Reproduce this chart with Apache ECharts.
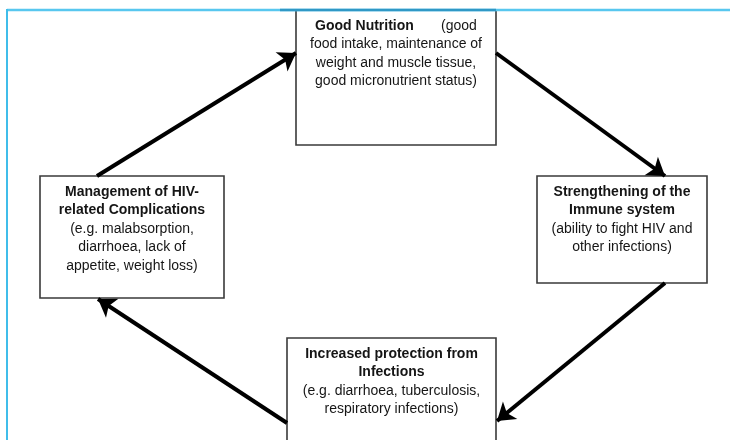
<!DOCTYPE html>
<html>
<head>
<meta charset="utf-8">
<script src="https://cdn.jsdelivr.net/npm/echarts@6/dist/echarts.min.js"></script>
<style>
html,body{margin:0;padding:0;background:#fff;}
#chart{width:730px;height:440px;}
</style>
</head>
<body>
<div id="chart"></div>
<script>
// ---- Diagram content ----
const nodeNames = ["Good Nutrition", "Strengthening of the Immune system", "Increased protection from Infections", "Management of HIV-related Complications"];
const nodeTitleLines = [
  ["Good Nutrition"],
  ["Strengthening of the", "Immune system"],
  ["Increased protection from", "Infections"],
  ["Management of HIV-", "related Complications"]
];
const nodeDescLines = [
  ["(good", "food intake, maintenance of", "weight and muscle tissue,", "good micronutrient status)"],
  ["(ability to fight HIV and", "other infections)"],
  ["(e.g. diarrhoea, tuberculosis,", "respiratory infections)"],
  ["(e.g. malabsorption,", "diarrhoea, lack of", "appetite, weight loss)"]
];
// title and first description line share a line in the first box
const nodeInlineDesc = [true, false, false, false];

// cycle links (from node -> to node)
const linkFrom = [3, 0, 1, 2];
const linkTo   = [0, 1, 2, 3];

// ---- Layout (diagram space, 730 x 440) ----
const boxX0 = [296, 537, 287, 40];
const boxY0 = [10, 176, 338, 176];
const boxX1 = [496, 707, 496, 224];
const boxY1 = [145, 283, 462, 298];
const linkStart = [[97, 176], [496, 53], [665, 283], [287, 423]];
const linkEnd   = [[296, 53], [665, 176], [497, 421], [98, 299]];

const FONT = '"Liberation Sans", Arial, Helvetica, sans-serif';

function buildLabel(i) {
  const t = nodeTitleLines[i].map(s => '{b|' + s + '}');
  const d = nodeDescLines[i].map(s => '{r|' + s + '}');
  if (nodeInlineDesc[i]) {
    const first = t.pop() + '{r|       }' + d.shift();
    return t.concat([first], d).join('\n');
  }
  return t.concat(d).join('\n');
}

const boxData = nodeNames.map((n, i) => ({
  name: n,
  value: [boxX0[i], boxY0[i], boxX1[i], boxY1[i]]
}));

const linkData = linkFrom.map((f, k) => ({
  name: nodeNames[f] + ' > ' + nodeNames[linkTo[k]],
  coords: [linkStart[k], linkEnd[k]]
}));

const chart = echarts.init(document.getElementById('chart'));
chart.setOption({
  animation: false,
  backgroundColor: '#ffffff',
  grid: { left: 0, right: 0, top: 0, bottom: 0 },
  xAxis: { type: 'value', min: 0, max: 730, show: false },
  yAxis: { type: 'value', min: 0, max: 440, inverse: true, show: false },
  graphic: [
    { type: 'line', z: 100, shape: { x1: 7, y1: 10, x2: 730, y2: 10 }, style: { stroke: '#58c7ef', lineWidth: 2.5 } },
    { type: 'line', z: 101, shape: { x1: 280, y1: 10, x2: 496, y2: 10 }, style: { stroke: '#2f98c6', lineWidth: 2.5 } },
    { type: 'line', z: 100, shape: { x1: 7, y1: 9, x2: 7, y2: 440 }, style: { stroke: '#40bdea', lineWidth: 2 } }
  ],
  series: [
    {
      type: 'custom',
      coordinateSystem: 'cartesian2d',
      clip: false,
      silent: true,
      encode: { x: [0, 2], y: [1, 3] },
      data: boxData,
      z: 2,
      renderItem: function (params, api) {
        const i = params.dataIndex;
        const p0 = api.coord([api.value(0), api.value(1)]);
        const p1 = api.coord([api.value(2), api.value(3)]);
        const x = Math.min(p0[0], p1[0]);
        const y = Math.min(p0[1], p1[1]);
        const w = Math.abs(p1[0] - p0[0]);
        const h = Math.abs(p1[1] - p0[1]);
        return {
          type: 'group',
          children: [
            { type: 'rect', shape: { x: x, y: y, width: w, height: h },
              style: { fill: '#ffffff', stroke: '#3a3a3a', lineWidth: 1.6 } },
            { type: 'text', x: x + w / 2, y: y + 6.5,
              style: {
                text: buildLabel(i),
                align: 'center', verticalAlign: 'top',
                font: '14px ' + FONT, fill: '#151515', lineHeight: 18.5,
                rich: {
                  b: { fontFamily: FONT, fontSize: 14, fontWeight: 'bold', fill: '#151515', lineHeight: 18.5 },
                  r: { fontFamily: FONT, fontSize: 14, fontWeight: 'normal', fill: '#151515', lineHeight: 18.5 }
                }
              } }
          ]
        };
      }
    },
    {
      type: 'lines',
      coordinateSystem: 'cartesian2d',
      silent: true,
      z: 3,
      symbol: ['none', 'arrow'],
      symbolSize: 17,
      lineStyle: { color: '#000000', width: 4, opacity: 1, curveness: 0 },
      data: linkData
    }
  ]
});
</script>
</body>
</html>
